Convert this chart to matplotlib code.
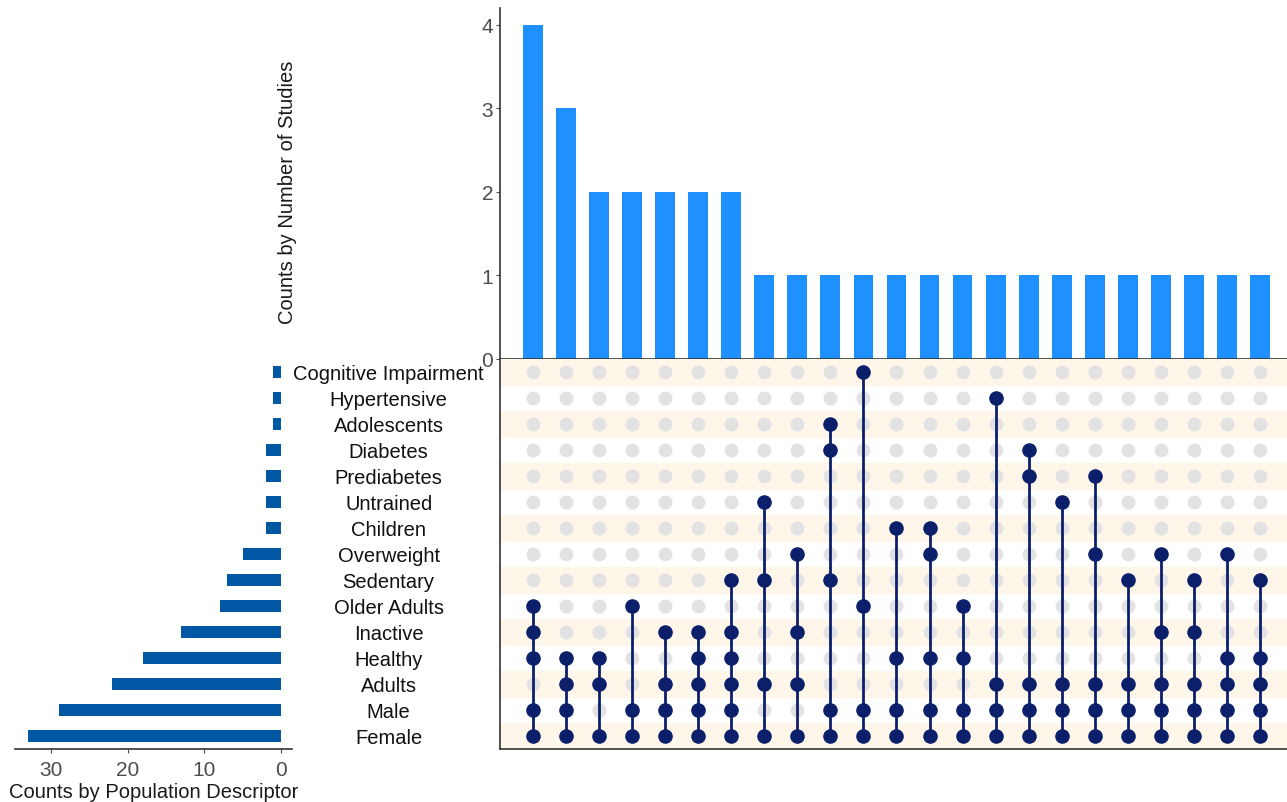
import matplotlib
matplotlib.use('Agg')
import matplotlib.pyplot as plt

plt.rcParams['font.family'] = ['Liberation Sans', 'DejaVu Sans']

# population descriptors, listed top to bottom as in the matrix
sets = ['Cognitive Impairment', 'Hypertensive', 'Adolescents', 'Diabetes',
        'Prediabetes', 'Untrained', 'Children', 'Overweight', 'Sedentary',
        'Older Adults', 'Inactive', 'Healthy', 'Adults', 'Male', 'Female']
set_sizes = [1, 1, 1, 2, 2, 2, 2, 5, 7, 8, 13, 18, 22, 29, 33]

# number of studies for each combination of descriptors
inter_counts = [4, 3, 2, 2, 2, 2, 2, 1, 1, 1, 1, 1, 1, 1, 1, 1, 1, 1, 1, 1, 1, 1, 1]
inter_members = [
    ['Older Adults', 'Inactive', 'Healthy', 'Male', 'Female'],
    ['Healthy', 'Adults', 'Male', 'Female'],
    ['Healthy', 'Adults', 'Female'],
    ['Older Adults', 'Male', 'Female'],
    ['Inactive', 'Adults', 'Male', 'Female'],
    ['Inactive', 'Healthy', 'Adults', 'Male', 'Female'],
    ['Sedentary', 'Inactive', 'Healthy', 'Adults', 'Male', 'Female'],
    ['Untrained', 'Sedentary', 'Adults', 'Female'],
    ['Overweight', 'Inactive', 'Adults', 'Female'],
    ['Adolescents', 'Diabetes', 'Sedentary', 'Male', 'Female'],
    ['Cognitive Impairment', 'Older Adults', 'Male', 'Female'],
    ['Children', 'Healthy', 'Male', 'Female'],
    ['Children', 'Overweight', 'Healthy', 'Male', 'Female'],
    ['Older Adults', 'Healthy', 'Male', 'Female'],
    ['Hypertensive', 'Adults', 'Male', 'Female'],
    ['Diabetes', 'Prediabetes', 'Adults', 'Male', 'Female'],
    ['Untrained', 'Adults', 'Male', 'Female'],
    ['Prediabetes', 'Overweight', 'Adults', 'Male', 'Female'],
    ['Sedentary', 'Adults', 'Male', 'Female'],
    ['Overweight', 'Inactive', 'Adults', 'Male', 'Female'],
    ['Sedentary', 'Inactive', 'Adults', 'Male', 'Female'],
    ['Overweight', 'Healthy', 'Adults', 'Male', 'Female'],
    ['Sedentary', 'Healthy', 'Adults', 'Male', 'Female'],
]

bar_blue = '#1E90FF'
set_blue = '#0057A3'
dot_navy = '#0B1F6B'
dot_gray = '#E2E2E2'
stripe = '#FDF6E9'
spine_col = '#333333'
tick_col = '#4D4D4D'

fig = plt.figure(figsize=(12.87, 8.03), dpi=100)
ax_top = fig.add_axes([0.3885, 0.5517, 0.6115, 0.4371])
ax_mat = fig.add_axes([0.3885, 0.066, 0.6115, 0.4857])
ax_set = fig.add_axes([0.01166, 0.066, 0.2152, 0.4857])

n_int = len(inter_counts)
n_set = len(sets)
xs = list(range(n_int))
rows = list(range(n_set))
xlim = (-1, n_int - 0.18)

# intersection size bars
ax_top.bar(xs, inter_counts, width=0.6, color=bar_blue)
ax_top.set_xlim(xlim)
ax_top.set_ylim(0, 4.2)
ax_top.set_yticks([0, 1, 2, 3, 4])
ax_top.set_xticks([])
ax_top.tick_params(axis='y', labelsize=15, colors=tick_col, length=3, width=0.8, pad=2)
for s in ['top', 'right']:
    ax_top.spines[s].set_visible(False)
for s in ['left', 'bottom']:
    ax_top.spines[s].set_color(spine_col)
    ax_top.spines[s].set_linewidth(1.2)
ax_top.set_ylabel('Counts by Number of Studies', fontsize=14.5, color='#1a1a1a')
ax_top.yaxis.set_label_coords(-0.258, 0.477)

# matrix with shaded rows
ax_mat.set_xlim(xlim)
ax_mat.set_ylim(n_set - 0.5, -0.5)
for r in rows:
    if r % 2 == 0:
        ax_mat.axhspan(r - 0.5, r + 0.5, color=stripe, zorder=0)
for x in xs:
    ax_mat.scatter([x] * n_set, rows, s=100, color=dot_gray, zorder=1, linewidths=0)
    active = [sets.index(m) for m in inter_members[x]]
    ax_mat.plot([x, x], [min(active), max(active)], color=dot_navy, lw=2.0, zorder=2)
    ax_mat.scatter([x] * len(active), active, s=110, color=dot_navy, zorder=3, linewidths=0)
ax_mat.set_xticks([])
ax_mat.set_yticks([])
for s in ['top', 'right']:
    ax_mat.spines[s].set_visible(False)
for s in ['left', 'bottom']:
    ax_mat.spines[s].set_color(spine_col)
    ax_mat.spines[s].set_linewidth(1.2)

for r, name in zip(rows, sets):
    ax_mat.text(-0.1415, r + 0.05, name, transform=ax_mat.get_yaxis_transform(),
                ha='center', va='center', fontsize=14.5, color='#111111')

# set size bars
ax_set.barh(rows, set_sizes, height=0.45, color=set_blue)
ax_set.set_ylim(n_set - 0.5, -0.5)
ax_set.set_xlim(34.7, -1.43)
ax_set.set_xticks([0, 10, 20, 30])
ax_set.set_yticks([])
ax_set.tick_params(axis='x', labelsize=15, colors=tick_col, length=3, width=0.8, pad=5)
for s in ['top', 'right', 'left']:
    ax_set.spines[s].set_visible(False)
ax_set.spines['bottom'].set_color(spine_col)
ax_set.spines['bottom'].set_linewidth(1.2)
ax_set.set_xlabel('Counts by Population Descriptor', fontsize=14.5, color='#1a1a1a', labelpad=2)

fig.savefig('out.png', dpi=100)
